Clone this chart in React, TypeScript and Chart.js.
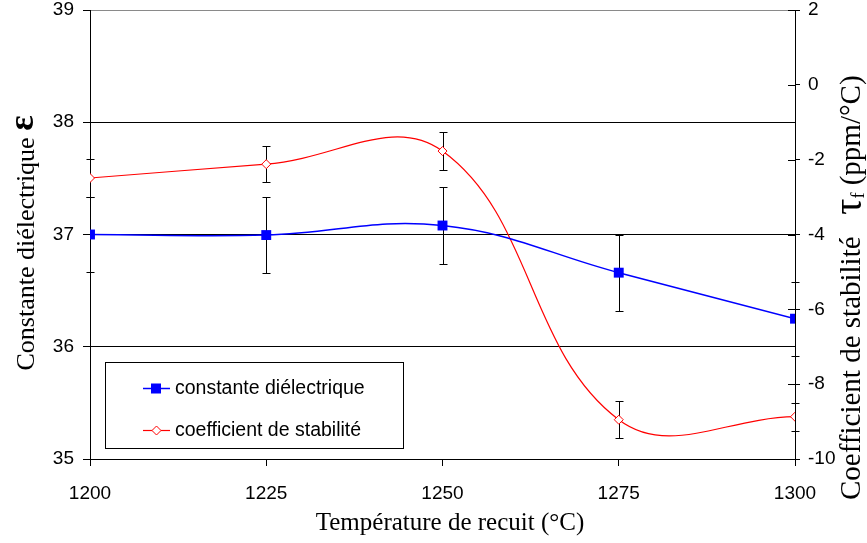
import React, { useEffect, useRef } from "react";
import { Chart, registerables } from "chart.js";

Chart.register(...registerables);

const temperatures = [1200, 1225, 1250, 1275, 1300];
const dielectric = [37.0, 36.995, 37.08, 36.66, 36.25];
const dielectricErr = [0.33, 0.34, 0.34, 0.34, 0.33];
const tauF = [-2.49, -2.12, -1.77, -8.95, -8.87];
const tauFErr = [0.5, 0.49, 0.5, 0.5, 0.38];

const xTicks = [1200, 1225, 1250, 1275, 1300];
const leftTicks = [35, 36, 37, 38, 39];
const rightTicks = [-10, -8, -6, -4, -2, 0, 2];

const seriesNames = ["constante diélectrique", "coefficient de stabilité"];
const xTitle = "Température de recuit (°C)";
const leftTitle = "Constante diélectrique ";
const leftSymbol = "ε";
const rightTitleA = "Coefficient de stabilité   ";
const rightSymbol = "τ";
const rightSub = "f";
const rightTitleB = " (ppm/°C)";

const SANS = "'Liberation Sans', Arial, sans-serif";
const SERIF = "'Liberation Serif', 'Times New Roman', serif";
const TICK_SIZE = 19;

const errorsBySet = [dielectricErr, tauFErr];

const errorBarPlugin = {
  id: "errorBars",
  beforeDatasetsDraw(chart: any) {
    const ctx = chart.ctx;
    ctx.save();
    ctx.strokeStyle = "#000";
    ctx.lineWidth = 1;
    chart.data.datasets.forEach((ds: any, i: number) => {
      const meta = chart.getDatasetMeta(i);
      const yScale = chart.scales[ds.yAxisID];
      const errs = errorsBySet[i];
      meta.data.forEach((pt: any, j: number) => {
        const v = ds.data[j].y;
        const x = Math.round(pt.x) + 0.5;
        const yT = Math.round(yScale.getPixelForValue(v + errs[j])) + 0.5;
        const yB = Math.round(yScale.getPixelForValue(v - errs[j])) + 0.5;
        ctx.beginPath();
        ctx.moveTo(x, yT);
        ctx.lineTo(x, yB);
        ctx.moveTo(x - 4, yT);
        ctx.lineTo(x + 4, yT);
        ctx.moveTo(x - 4, yB);
        ctx.lineTo(x + 4, yB);
        ctx.stroke();
      });
    });
    ctx.restore();
  },
};

const decorPlugin = {
  id: "decor",
  afterDraw(chart: any) {
    const ctx = chart.ctx;
    const area = chart.chartArea;
    const yR = chart.scales.yR;
    ctx.save();
    ctx.strokeStyle = "#000";
    ctx.lineWidth = 1;
    rightTicks.forEach((t) => {
      const y = Math.round(yR.getPixelForValue(t)) + 0.5;
      ctx.beginPath();
      ctx.moveTo(area.right - 7, y);
      ctx.lineTo(area.right, y);
      ctx.stroke();
    });

    // legend box
    const bx = 105.5, by = 362.5, bw = 298, bh = 86;
    ctx.fillStyle = "#fff";
    ctx.fillRect(bx, by, bw, bh);
    ctx.strokeStyle = "#000";
    ctx.strokeRect(bx, by, bw, bh);
    const rows = [388, 430];
    const colors = ["#0000ff", "#ff0000"];
    rows.forEach((ry, i) => {
      ctx.strokeStyle = colors[i];
      ctx.lineWidth = i === 0 ? 1.5 : 1.2;
      ctx.beginPath();
      ctx.moveTo(143, ry + 0.5);
      ctx.lineTo(170, ry + 0.5);
      ctx.stroke();
      if (i === 0) {
        ctx.fillStyle = "#0000ff";
        ctx.fillRect(151, ry - 4.5, 10, 10);
      } else {
        ctx.fillStyle = "#fff";
        ctx.strokeStyle = "#ff0000";
        ctx.lineWidth = 1;
        ctx.beginPath();
        ctx.moveTo(156.5, ry - 4);
        ctx.lineTo(161, ry + 0.5);
        ctx.lineTo(156.5, ry + 5);
        ctx.lineTo(152, ry + 0.5);
        ctx.closePath();
        ctx.fill();
        ctx.stroke();
      }
      ctx.fillStyle = "#000";
      ctx.font = `19.5px ${SANS}`;
      ctx.textBaseline = "middle";
      ctx.textAlign = "left";
      ctx.fillText(seriesNames[i], 175, ry + 1);
    });

    // x title
    ctx.fillStyle = "#000";
    ctx.font = `25px ${SERIF}`;
    ctx.textAlign = "center";
    ctx.textBaseline = "middle";
    ctx.fillText(xTitle, 450, 523);

    // left title
    ctx.save();
    ctx.translate(27, 243);
    ctx.rotate(-Math.PI / 2);
    ctx.textBaseline = "middle";
    ctx.textAlign = "left";
    ctx.font = `26px ${SERIF}`;
    const w1 = ctx.measureText(leftTitle).width;
    ctx.font = `bold 36px ${SERIF}`;
    const w2 = ctx.measureText(leftSymbol).width;
    const start = -(w1 + w2) / 2;
    ctx.font = `26px ${SERIF}`;
    ctx.fillText(leftTitle, start, 0);
    ctx.font = `bold 36px ${SERIF}`;
    ctx.fillText(leftSymbol, start + w1, -3);
    ctx.restore();

    // right title (starts at bottom, reads upwards)
    ctx.save();
    ctx.translate(852, 500);
    ctx.rotate(-Math.PI / 2);
    ctx.textBaseline = "middle";
    ctx.textAlign = "left";
    let pos = 0;
    ctx.font = `29px ${SERIF}`;
    ctx.fillText(rightTitleA, pos, 0);
    pos += ctx.measureText(rightTitleA).width;
    ctx.font = `40px ${SERIF}`;
    ctx.fillText(rightSymbol, pos, -2);
    pos += ctx.measureText(rightSymbol).width;
    ctx.font = `18px ${SERIF}`;
    ctx.fillText(rightSub, pos, 7);
    pos += ctx.measureText(rightSub).width;
    ctx.font = `29px ${SERIF}`;
    ctx.fillText(rightTitleB, pos, 0);
    ctx.restore();

    ctx.restore();
  },
};

export default function App() {
  const canvasRef = useRef<HTMLCanvasElement | null>(null);

  useEffect(() => {
    if (!canvasRef.current) return;
    const noVPad = (s: any) => {
      s.paddingTop = 0;
      s.paddingBottom = 0;
    };
    const chart = new Chart(canvasRef.current, {
      type: "line",
      data: {
        datasets: [
          {
            label: seriesNames[0],
            data: temperatures.map((t, i) => ({ x: t, y: dielectric[i] })),
            yAxisID: "yL",
            borderColor: "#0000ff",
            backgroundColor: "#0000ff",
            borderWidth: 1.5,
            pointStyle: "rect",
            pointRadius: 7,
            pointBorderWidth: 0,
            pointBackgroundColor: "#0000ff",
            tension: 0.4,
          },
          {
            label: seriesNames[1],
            data: temperatures.map((t, i) => ({ x: t, y: tauF[i] })),
            yAxisID: "yR",
            borderColor: "#ff0000",
            backgroundColor: "#ffffff",
            borderWidth: 1.2,
            pointStyle: "rectRot",
            pointRadius: 4.5,
            pointBorderWidth: 1,
            pointBorderColor: "#ff0000",
            pointBackgroundColor: "#ffffff",
            tension: 0.4,
          },
        ],
      },
      options: {
        responsive: false,
        animation: false,
        layout: { padding: { top: 10, left: 0, right: 0, bottom: 0 } },
        plugins: { legend: { display: false }, tooltip: { enabled: false } },
        scales: {
          x: {
            type: "linear",
            min: 1200,
            max: 1300,
            afterBuildTicks: (s: any) => {
              s.ticks = xTicks.map((v) => ({ value: v }));
            },
            afterFit: (s: any) => {
              s.height = 84;
              s.paddingLeft = 0;
              s.paddingRight = 0;
            },
            grid: {
              drawOnChartArea: false,
              drawTicks: true,
              tickLength: 7,
              tickColor: "#000",
            },
            border: { display: true, color: "#000", width: 1 },
            ticks: {
              font: { family: SANS, size: TICK_SIZE },
              color: "#000",
              padding: 16,
              maxRotation: 0,
              autoSkip: false,
              callback: (v: any) => String(v),
            },
          },
          yL: {
            type: "linear",
            position: "left",
            min: 35,
            max: 39,
            afterBuildTicks: (s: any) => {
              s.ticks = leftTicks.map((v) => ({ value: v }));
            },
            afterFit: (s: any) => {
              s.width = 90;
              noVPad(s);
            },
            grid: {
              color: (c: any) => (c.tick && c.tick.value === 39 ? "#8a8a8a" : "#000"),
              drawTicks: true,
              tickLength: 7,
              tickColor: "#000",
            },
            border: { display: true, color: "#000", width: 1 },
            ticks: {
              font: { family: SANS, size: TICK_SIZE },
              color: "#000",
              padding: 9,
              callback: (v: any) => String(v),
            },
          },
          yR: {
            type: "linear",
            position: "right",
            min: -10,
            max: 2,
            afterBuildTicks: (s: any) => {
              s.ticks = rightTicks.map((v) => ({ value: v }));
            },
            afterFit: (s: any) => {
              s.width = 72;
              noVPad(s);
            },
            grid: {
              drawOnChartArea: false,
              drawTicks: true,
              tickLength: 5,
              tickColor: "#000",
            },
            border: { display: true, color: "#000", width: 1 },
            ticks: {
              font: { family: SANS, size: TICK_SIZE },
              color: "#000",
              padding: 8,
              callback: (v: any) => String(v),
            },
          },
        },
      },
      plugins: [errorBarPlugin, decorPlugin],
    } as any);
    return () => chart.destroy();
  }, []);

  return (
    <div style={{ position: "fixed", left: 0, top: 0, width: 867, height: 543, background: "#fff" }}>
      <canvas ref={canvasRef} width={867} height={543} />
    </div>
  );
}
